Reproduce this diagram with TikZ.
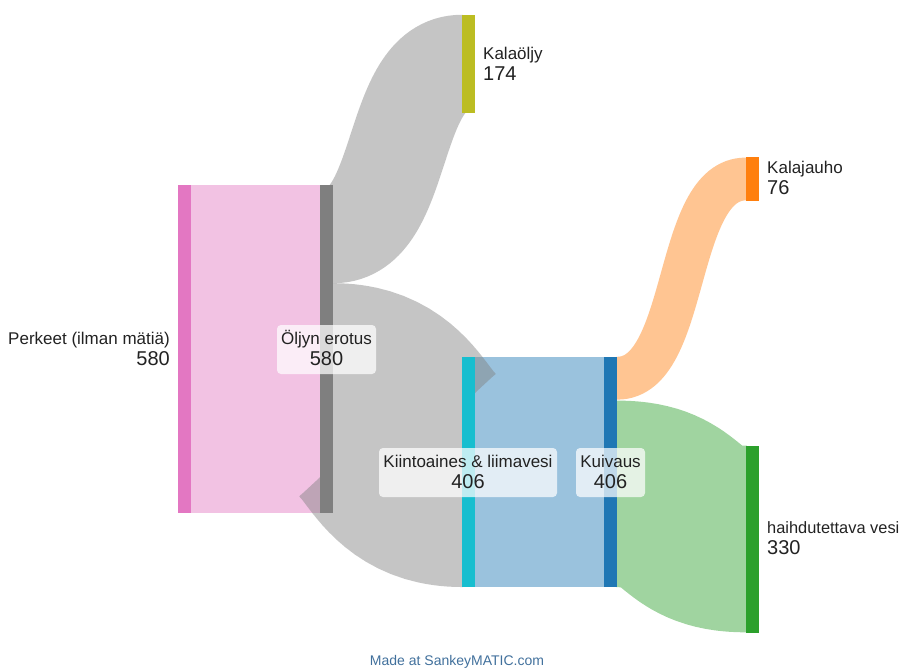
\documentclass[tikz,border=0pt]{standalone}
\usepackage{fontspec}
\setmainfont{Liberation Sans}
\usetikzlibrary{calc}

\definecolor{cPerk}{HTML}{E377C2}
\definecolor{cOlj}{HTML}{7F7F7F}
\definecolor{cOil}{HTML}{BCBD22}
\definecolor{cKiin}{HTML}{17BECF}
\definecolor{cKuiv}{HTML}{1F77B4}
\definecolor{cJauho}{HTML}{FF7F0E}
\definecolor{cVesi}{HTML}{2CA02C}
\definecolor{cText}{HTML}{222222}
\definecolor{cCredit}{HTML}{41709C}

\begin{document}
\begin{tikzpicture}[x=1pt,y=-1pt,
  bar/.style={rectangle, inner sep=0pt, minimum width=13pt, draw=none},
  flow/.style={line cap=butt, draw opacity=0.45},
  namelab/.style={inner sep=0pt, text=cText, font=\fontsize{17}{20}\selectfont},
  vallab/.style={inner sep=0pt, text=cText, font=\fontsize{20}{24}\selectfont},
  labbox/.style={rectangle, rounded corners=4pt, fill=white, fill opacity=0.72,
                 draw=none, inner sep=0pt, minimum height=49pt}
]
\useasboundingbox (0,0) rectangle (902,670);

% node bars
\path
  node[bar, minimum height=328pt]  (perk)  at (184.5,349) {}
  node[bar, minimum height=328pt]  (olj)   at (326.5,349) {}
  node[bar, minimum height=98.4pt] (oil)   at (468.5,64)  {}
  node[bar, minimum height=230pt]  (kiin)  at (468.5,472) {}
  node[bar, minimum height=230pt]  (kuiv)  at (610.5,472) {}
  node[bar, minimum height=42.8pt] (jauho) at (752.5,179) {}
  node[bar, minimum height=186.6pt](vesi)  at (752.5,539) {};

% flows (each one starts and ends a little inside its bars)
\draw[flow, draw=cPerk, line width=328pt] ($(perk.east)+(-1,0)$) -- ($(olj.west)+(1,0)$);
\draw[flow, draw=cOlj, line width=98.4pt]
  ($(olj.north east)+(-1,49.2)$) -- +(1,0) .. controls +(73,0) and +(-73,0) .. (oil.west) -- +(1,0);
\draw[flow, draw=cKuiv, line width=230pt] ($(kiin.east)+(-1,0)$) -- ($(kuiv.west)+(1,0)$);
\draw[flow, draw=cOlj, line width=230pt]
  ($(olj.south east)+(-1,-115)$) -- +(1,0) .. controls +(73,0) and +(-73,0) .. (kiin.west) -- +(1,0);
\draw[flow, draw=cJauho, line width=42.8pt]
  ($(kuiv.north east)+(-1,21.4)$) -- +(1,0) .. controls +(73,0) and +(-73,0) .. (jauho.west) -- +(1,0);
\draw[flow, draw=cVesi, line width=186.6pt]
  ($(kuiv.south east)+(-1,-93.3)$) -- +(1,0) .. controls +(73,0) and +(-73,0) .. (vesi.west) -- +(1,0);

% bars on top of the flows
\fill[cPerk]  (perk.north west)  rectangle (perk.south east);
\fill[cOlj]   (olj.north west)   rectangle (olj.south east);
\fill[cOil]   (oil.north west)   rectangle (oil.south east);
\fill[cKiin]  (kiin.north west)  rectangle (kiin.south east);
\fill[cKuiv]  (kuiv.north west)  rectangle (kuiv.south east);
\fill[cJauho] (jauho.north west) rectangle (jauho.south east);
\fill[cVesi]  (vesi.north west)  rectangle (vesi.south east);

% label backgrounds for the middle nodes
\node[labbox, minimum width=99pt]  (oljbox)  at (326.5,349.5) {};
\node[labbox, minimum width=178pt] (kiinbox) at (468,472.5) {};
\node[labbox, minimum width=69pt]  (kuivbox) at (610.5,472.5) {};

% labels
\node[namelab, anchor=base east] (perkname) at (170,344) {Perkeet (ilman mätiä)};
\node[vallab,  anchor=base east] (perkval)  at (170,365) {580};

\node[namelab, anchor=base] (oljname) at (326.5,344) {Öljyn erotus};
\node[vallab,  anchor=base] (oljval)  at (326.5,365) {580};

\node[namelab, anchor=base west] (oilname) at (483,59) {Kalaöljy};
\node[vallab,  anchor=base west] (oilval)  at (483,80) {174};

\node[namelab, anchor=base] (kiinname) at (468,467) {Kiintoaines \& liimavesi};
\node[vallab,  anchor=base] (kiinval)  at (468,488) {406};

\node[namelab, anchor=base] (kuivname) at (610.5,467) {Kuivaus};
\node[vallab,  anchor=base] (kuivval)  at (610.5,488) {406};

\node[namelab, anchor=base west] (jauhoname) at (767,173) {Kalajauho};
\node[vallab,  anchor=base west] (jauhoval)  at (767,194) {76};

\node[namelab, anchor=base west, font=\fontsize{16.4}{20}\selectfont] (vesiname)
  at (767,533) {haihdutettava vesi};
\node[vallab,  anchor=base west] (vesival)  at (767,554) {330};

\node[inner sep=0pt, text=cCredit, font=\fontsize{14}{16}\selectfont] (credit)
  at (457,662) {Made at SankeyMATIC.com};
\end{tikzpicture}
\end{document}
